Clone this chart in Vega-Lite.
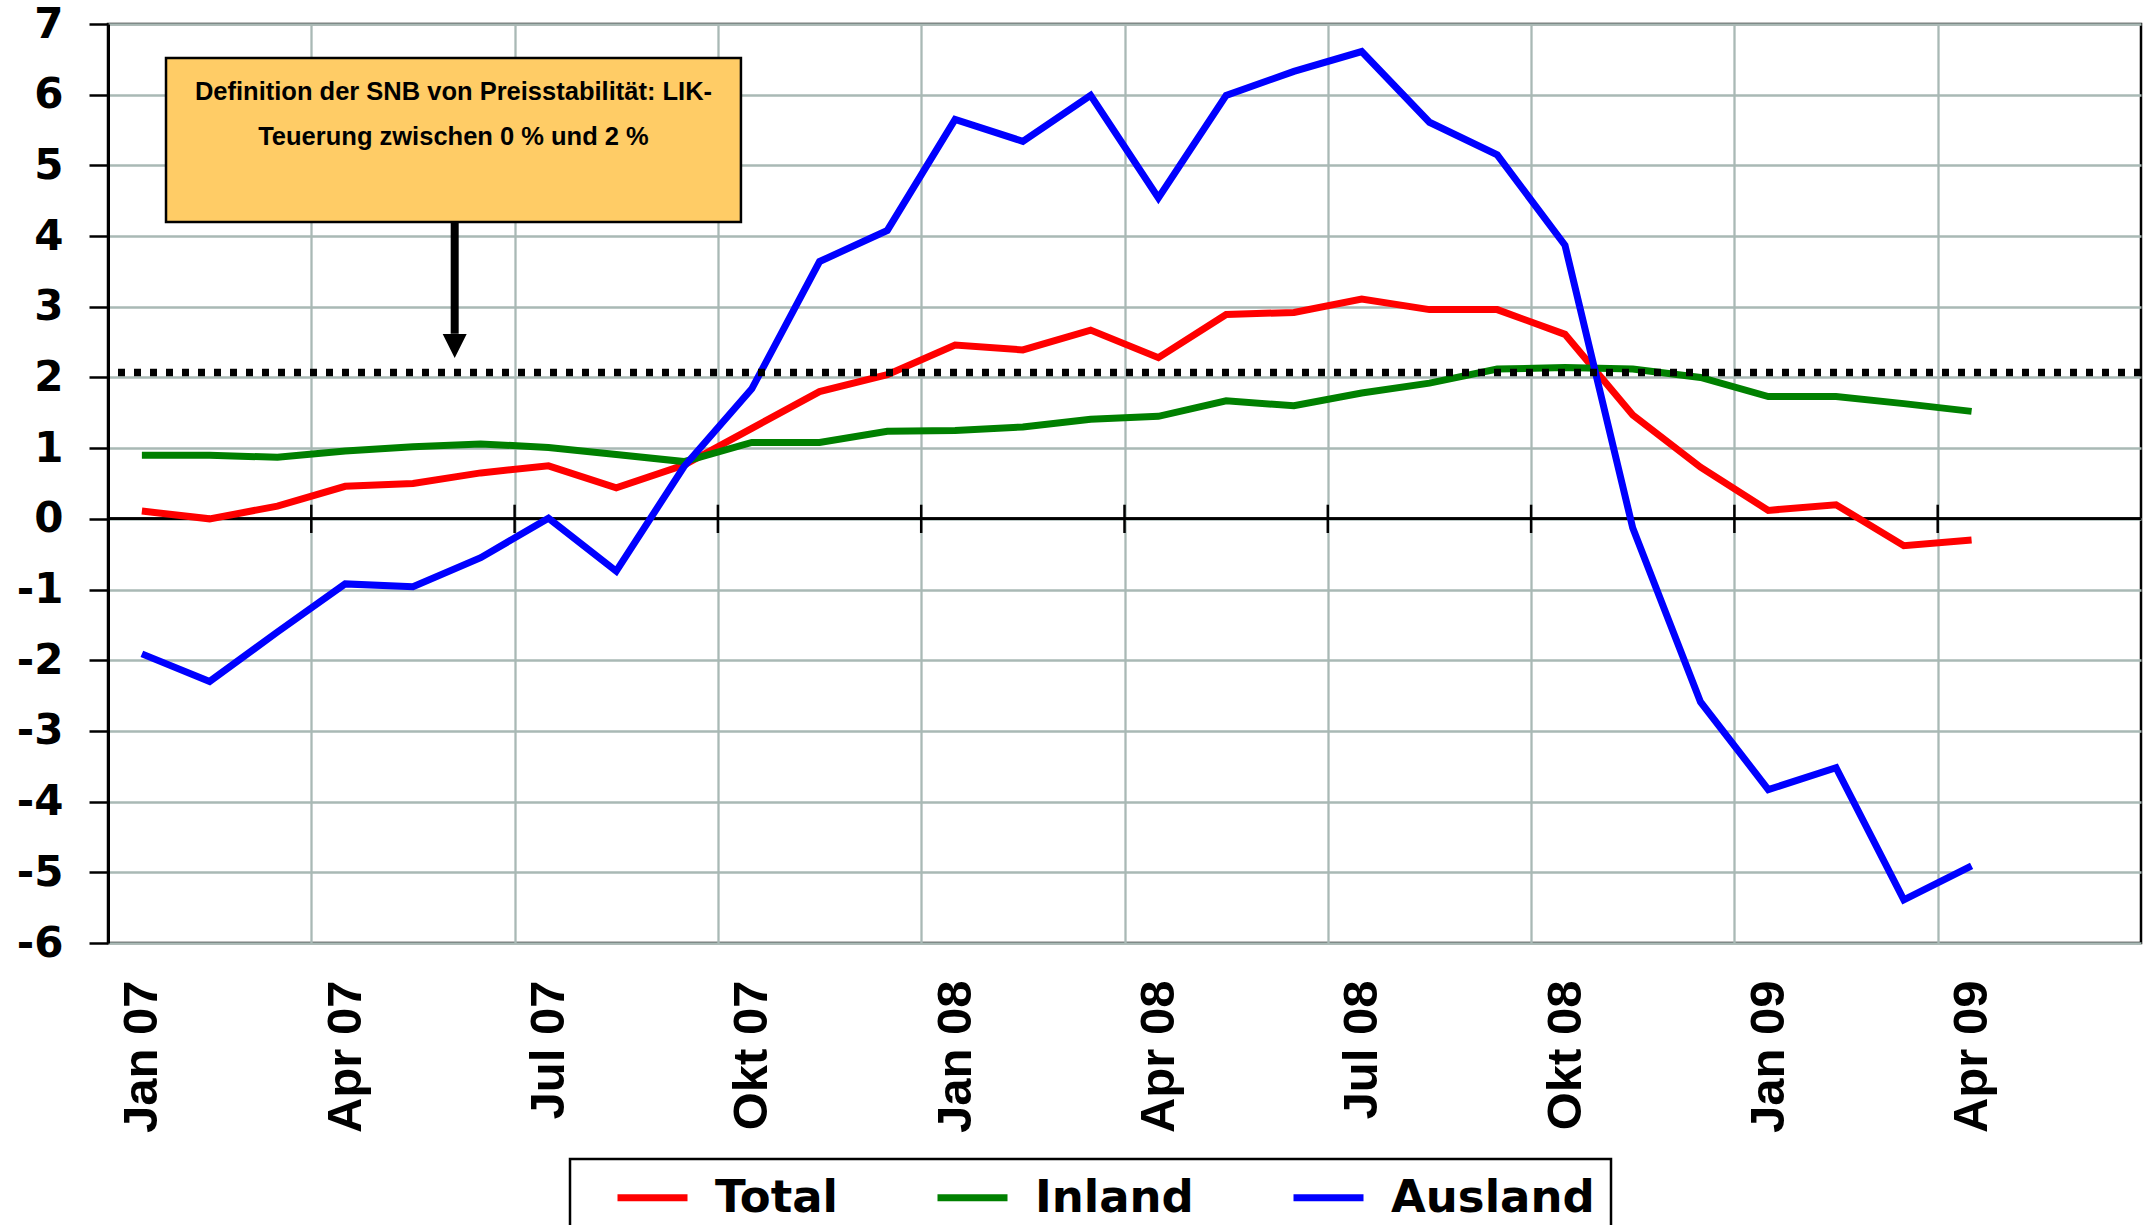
{
  "$schema": "https://vega.github.io/schema/vega-lite/v6.json",
  "width": 2033,
  "height": 919,
  "autosize": {"type": "none"},
  "padding": {"left": 108, "top": 24, "right": 11, "bottom": 282},
  "background": "white",
  "config": {
    "view": {"stroke": "black", "strokeWidth": 2.5},
    "axis": {"gridColor": "#a9b9b5", "gridWidth": 2.3, "gridOpacity": 1, "domainColor": "black", "tickColor": "black", "labelColor": "black"},
    "legend": {"strokeWidth": 2.5}
  },
  "datasets": {
    "teuerung": [
      {"i": 0, "Monat": "Jan 07", "Total": 0.11, "Inland": 0.90, "Ausland": -1.91},
      {"i": 1, "Monat": "Feb 07", "Total": 0.00, "Inland": 0.90, "Ausland": -2.30},
      {"i": 2, "Monat": "Mär 07", "Total": 0.18, "Inland": 0.87, "Ausland": -1.60},
      {"i": 3, "Monat": "Apr 07", "Total": 0.46, "Inland": 0.96, "Ausland": -0.92},
      {"i": 4, "Monat": "Mai 07", "Total": 0.50, "Inland": 1.02, "Ausland": -0.96},
      {"i": 5, "Monat": "Jun 07", "Total": 0.65, "Inland": 1.06, "Ausland": -0.55},
      {"i": 6, "Monat": "Jul 07", "Total": 0.75, "Inland": 1.01, "Ausland": 0.01},
      {"i": 7, "Monat": "Aug 07", "Total": 0.44, "Inland": 0.91, "Ausland": -0.74},
      {"i": 8, "Monat": "Sep 07", "Total": 0.76, "Inland": 0.81, "Ausland": 0.74},
      {"i": 9, "Monat": "Okt 07", "Total": 1.28, "Inland": 1.08, "Ausland": 1.84},
      {"i": 10, "Monat": "Nov 07", "Total": 1.80, "Inland": 1.08, "Ausland": 3.64},
      {"i": 11, "Monat": "Dez 07", "Total": 2.04, "Inland": 1.24, "Ausland": 4.08},
      {"i": 12, "Monat": "Jan 08", "Total": 2.46, "Inland": 1.25, "Ausland": 5.65},
      {"i": 13, "Monat": "Feb 08", "Total": 2.39, "Inland": 1.30, "Ausland": 5.34},
      {"i": 14, "Monat": "Mär 08", "Total": 2.67, "Inland": 1.41, "Ausland": 5.99},
      {"i": 15, "Monat": "Apr 08", "Total": 2.28, "Inland": 1.45, "Ausland": 4.54},
      {"i": 16, "Monat": "Mai 08", "Total": 2.89, "Inland": 1.67, "Ausland": 5.99},
      {"i": 17, "Monat": "Jun 08", "Total": 2.92, "Inland": 1.60, "Ausland": 6.33},
      {"i": 18, "Monat": "Jul 08", "Total": 3.11, "Inland": 1.78, "Ausland": 6.61},
      {"i": 19, "Monat": "Aug 08", "Total": 2.96, "Inland": 1.92, "Ausland": 5.61},
      {"i": 20, "Monat": "Sep 08", "Total": 2.96, "Inland": 2.12, "Ausland": 5.15},
      {"i": 21, "Monat": "Okt 08", "Total": 2.61, "Inland": 2.14, "Ausland": 3.87},
      {"i": 22, "Monat": "Nov 08", "Total": 1.47, "Inland": 2.12, "Ausland": -0.13},
      {"i": 23, "Monat": "Dez 08", "Total": 0.73, "Inland": 2.00, "Ausland": -2.59},
      {"i": 24, "Monat": "Jan 09", "Total": 0.12, "Inland": 1.73, "Ausland": -3.83},
      {"i": 25, "Monat": "Feb 09", "Total": 0.20, "Inland": 1.73, "Ausland": -3.52},
      {"i": 26, "Monat": "Mär 09", "Total": -0.38, "Inland": 1.63, "Ausland": -5.39},
      {"i": 27, "Monat": "Apr 09", "Total": -0.30, "Inland": 1.52, "Ausland": -4.91}
    ],
    "quartale": [
      {"grenze": 2.5}, {"grenze": 5.5}, {"grenze": 8.5}, {"grenze": 11.5}, {"grenze": 14.5},
      {"grenze": 17.5}, {"grenze": 20.5}, {"grenze": 23.5}, {"grenze": 26.5}
    ],
    "hinweis": [
      {"text": "Definition der SNB von Preisstabilität: LIK-\nTeuerung zwischen 0 % und 2 %", "links": 0.356, "rechts": 8.84, "oben": 6.52, "unten": 4.20, "textX": 4.598, "textY": 5.925, "pfeilX": 4.616, "pfeilStart": 4.20, "pfeilEnde": 2.62, "spitze": 2.446}
    ]
  },
  "layer": [
    {
      "data": {"name": "quartale"},
      "mark": {"type": "rule", "color": "black", "strokeWidth": 2.2},
      "encoding": {
        "y": {"datum": 0, "type": "quantitative"}
      }
    },
    {
      "data": {"name": "quartale"},
      "mark": {"type": "rule", "color": "black", "strokeWidth": 2.5},
      "encoding": {
        "x": {"field": "grenze", "type": "quantitative"},
        "y": {"datum": -0.2, "type": "quantitative"},
        "y2": {"datum": 0.2}
      }
    },
    {
      "data": {"name": "teuerung"},
      "transform": [{"fold": ["Total", "Inland", "Ausland"], "as": ["Serie", "Wert"]}],
      "mark": {"type": "line", "strokeWidth": 7, "strokeJoin": "miter"},
      "encoding": {
        "x": {
          "field": "i", "type": "quantitative",
          "scale": {"domain": [-0.5, 29.5], "nice": false, "zero": false},
          "axis": {
            "title": null,
            "values": [-0.5, 2.5, 5.5, 8.5, 11.5, 14.5, 17.5, 20.5, 23.5, 26.5],
            "grid": true, "domain": false, "ticks": false, "tickSize": 0,
            "labelAngle": 270, "labelOffset": 33.9,
            "labelExpr": "['Jan 07','Apr 07','Jul 07','Okt 07','Jan 08','Apr 08','Jul 08','Okt 08','Jan 09','Apr 09'][round((datum.value + 0.5) / 3)]",
            "labelFont": "Liberation Sans, Arial, sans-serif", "labelFontWeight": "bold", "labelFontSize": 49,
            "labelPadding": 37, "labelFlush": false, "labelOverlap": false, "labelBound": false
          }
        },
        "y": {
          "field": "Wert", "type": "quantitative",
          "scale": {"domain": [-6, 7], "nice": false, "zero": false},
          "axis": {
            "title": null,
            "values": [-6, -5, -4, -3, -2, -1, 0, 1, 2, 3, 4, 5, 6, 7],
            "labelExpr": "datum.value + ''",
            "grid": true, "domain": true, "domainWidth": 3, "ticks": true, "tickSize": 19, "tickWidth": 2.5,
            "labelFont": "DejaVu Sans", "labelFontWeight": "bold", "labelFontSize": 42,
            "labelPadding": 26, "labelOverlap": false, "labelFlush": false
          }
        },
        "color": {
          "field": "Serie", "type": "nominal",
          "scale": {"domain": ["Total", "Inland", "Ausland"], "range": ["#ff0000", "#008000", "#0000ff"]},
          "legend": {
            "orient": "none", "legendX": 462, "legendY": 1135, "direction": "horizontal",
            "title": " ", "titleOrient": "left", "titleFontSize": 1, "titlePadding": 30,
            "symbolType": "M-2,0L2,0", "symbolSize": 1225, "symbolStrokeWidth": 7, "symbolOpacity": 1, "symbolOffset": 14,
            "labelFont": "DejaVu Sans", "labelFontWeight": "bold", "labelFontSize": 45, "labelColor": "black",
            "labelOffset": 40, "columnPadding": 85, "padding": 16, "labelLimit": 400,
            "strokeColor": "black", "fillColor": "white"
          }
        }
      }
    },
    {
      "data": {"name": "hinweis"},
      "mark": {"type": "rule", "color": "black", "strokeWidth": 7.5, "strokeDash": [7, 9]},
      "encoding": {
        "y": {"datum": 2.07, "type": "quantitative"}
      }
    },
    {
      "data": {"name": "hinweis"},
      "mark": {"type": "rect", "fill": "#ffcc66", "stroke": "black", "strokeWidth": 2.5},
      "encoding": {
        "x": {"field": "links", "type": "quantitative"},
        "x2": {"field": "rechts"},
        "y": {"field": "oben", "type": "quantitative"},
        "y2": {"field": "unten"}
      }
    },
    {
      "data": {"name": "hinweis"},
      "mark": {"type": "text", "font": "Liberation Sans", "fontWeight": "bold", "fontSize": 25.5, "lineBreak": "\n", "lineHeight": 45, "align": "center", "baseline": "alphabetic", "color": "black"},
      "encoding": {
        "x": {"field": "textX", "type": "quantitative"},
        "y": {"field": "textY", "type": "quantitative"},
        "text": {"field": "text"}
      }
    },
    {
      "data": {"name": "hinweis"},
      "mark": {"type": "rule", "color": "black", "strokeWidth": 8},
      "encoding": {
        "x": {"field": "pfeilX", "type": "quantitative"},
        "y": {"field": "pfeilStart", "type": "quantitative"},
        "y2": {"field": "pfeilEnde"}
      }
    },
    {
      "data": {"name": "hinweis"},
      "mark": {"type": "point", "shape": "M-1,-1L1,-1L0,1Z", "filled": true, "color": "black", "opacity": 1, "strokeWidth": 0, "size": 576},
      "encoding": {
        "x": {"field": "pfeilX", "type": "quantitative"},
        "y": {"field": "spitze", "type": "quantitative"}
      }
    }
  ]
}
